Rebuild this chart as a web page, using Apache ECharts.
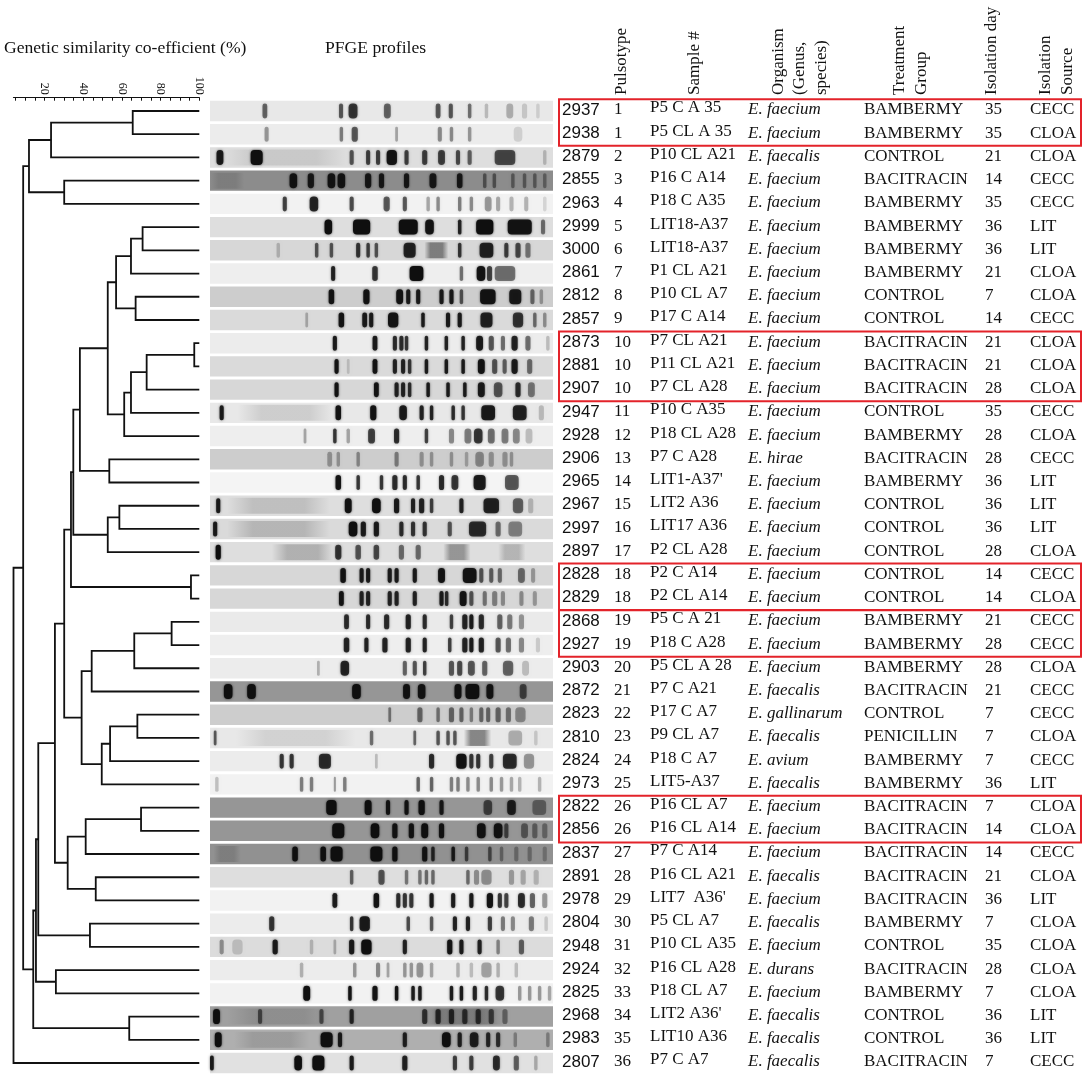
<!DOCTYPE html>
<html>
<head>
<meta charset="UTF-8">
<title>PFGE dendrogram</title>
<script src="https://cdn.jsdelivr.net/npm/echarts@6/dist/echarts.min.js"></script>
<style>html,body{margin:0;padding:0;background:#fff;}</style>
</head>
<body>
<div id="main" style="width:1084px;height:1079px;"></div>
<script type="text/javascript">
// table columns, one entry per isolate (top to bottom)
var isolates = ['2937','2938','2879','2855','2963','2999','3000','2861','2812','2857','2873','2881','2907','2947','2928','2906','2965','2967','2997','2897','2828','2829','2868','2927','2903','2872','2823','2810','2824','2973','2822','2856','2837','2891','2978','2804','2948','2924','2825','2968','2983','2807'];
var pulsotypes = [1,1,2,3,4,5,6,7,8,9,10,10,10,11,12,13,14,15,16,17,18,18,19,19,20,21,22,23,24,25,26,26,27,28,29,30,31,32,33,34,35,36];
var samples = ['P5 C A 35','P5 CL A 35','P10 CL A21','P16 C A14','P18 C A35','LIT18-A37','LIT18-A37','P1 CL A21','P10 CL A7','P17 C A14','P7 CL A21','P11 CL A21','P7 CL A28','P10 C A35','P18 CL A28','P7 C A28',"LIT1-A37'",'LIT2 A36','LIT17 A36','P2 CL A28','P2 C A14','P2 CL A14','P5 C A 21','P18 C A28','P5 CL A 28','P7 C A21','P17 C A7','P9 CL A7','P18 C A7','LIT5-A37','P16 CL A7','P16 CL A14','P7 C A14','P16 CL A21',"LIT7  A36'",'P5 CL A7','P10 CL A35','P16 CL A28','P18 CL A7',"LIT2 A36'",'LIT10 A36','P7 C A7'];
var organisms = ['E. faecium','E. faecium','E. faecalis','E. faecium','E. faecium','E. faecium','E. faecium','E. faecium','E. faecium','E. faecium','E. faecium','E. faecium','E. faecium','E. faecium','E. faecium','E. hirae','E. faecium','E. faecium','E. faecium','E. faecium','E. faecium','E. faecium','E. faecium','E. faecium','E. faecium','E. faecalis','E. gallinarum','E. faecalis','E. avium','E. faecalis','E. faecium','E. faecium','E. faecium','E. faecalis','E. faecium','E. faecalis','E. faecium','E. durans','E. faecium','E. faecalis','E. faecalis','E. faecalis'];
var treatments = ['BAMBERMY','BAMBERMY','CONTROL','BACITRACIN','BAMBERMY','BAMBERMY','BAMBERMY','BAMBERMY','CONTROL','CONTROL','BACITRACIN','BACITRACIN','BACITRACIN','CONTROL','BAMBERMY','BACITRACIN','BAMBERMY','CONTROL','CONTROL','CONTROL','CONTROL','CONTROL','BAMBERMY','BAMBERMY','BAMBERMY','BACITRACIN','CONTROL','PENICILLIN','BAMBERMY','BAMBERMY','BACITRACIN','BACITRACIN','BACITRACIN','BACITRACIN','BACITRACIN','BAMBERMY','CONTROL','BACITRACIN','BAMBERMY','CONTROL','CONTROL','BACITRACIN'];
var days = [35,35,21,14,35,36,36,21,7,14,21,21,28,35,28,28,36,36,36,28,14,14,21,28,28,21,7,7,7,36,7,14,14,21,36,7,35,28,7,36,36,7];
var sources = ['CECC','CLOA','CLOA','CECC','CECC','LIT','LIT','CLOA','CLOA','CECC','CLOA','CLOA','CLOA','CECC','CLOA','CECC','LIT','LIT','LIT','CLOA','CECC','CLOA','CECC','CECC','CLOA','CECC','CECC','CLOA','CECC','LIT','CLOA','CLOA','CECC','CLOA','LIT','CLOA','CLOA','CLOA','CLOA','LIT','LIT','CECC'];

// dendrogram merges: leaves are 0..41, merge k creates node 42+k
var mergeLeft  = [0,42,3,43,5,46,8,47,10,50,51,52,49,15,54,17,57,56,20,59,22,62,63,26,65,66,64,61,30,70,33,71,69,35,74,37,76,39,78,45,81];
var mergeRight = [1,2,4,44,6,7,9,48,11,12,13,14,53,16,55,18,19,58,21,60,23,24,25,27,28,29,67,68,31,32,34,72,73,36,75,38,77,40,79,80,41];
var mergeSim   = [65.6,23.4,30.2,12.0,70.7,64.7,67.1,57.0,97.4,72.8,64.7,61.2,52.7,53.5,38.3,58.7,52.7,34.9,95.7,33.7,85.7,66.4,44.4,68.0,53.9,49.6,39.2,30.2,69.9,41.3,46.5,32.0,25.4,43.5,16.8,25.9,15.6,63.8,14.2,9.0,4.0];

var simTicks = [5,10,15,20,25,30,35,40,45,50,55,60,65,70,75,80,85,90,95,100];
var simLabels = [20,40,60,80,100];

// gel lanes: background grey level, bands as [position %, width %, darkness]
var laneShade = [232,236,222,140,242,222,215,238,205,218,236,218,215,232,238,205,244,222,218,222,215,215,234,238,236,150,205,232,236,242,150,150,145,222,242,236,220,236,242,160,175,225];
var laneBands = [
 [[16.0,1.4,.55],[38.2,1.2,.6],[41.7,2.6,.75],[51.7,2.0,.55],[66.5,1.4,.6],[70.2,1.2,.6],[75.7,1,.5],[80.6,1,.2],[87.4,2,.25],[91.7,1.5,.15],[95.6,1,.12]],
 [[16.5,1.2,.35],[38.3,1,.45],[42.2,1.8,.6],[54.4,.8,.3],[67.0,1.2,.4],[70.4,1,.4],[75.7,1,.35],[89.8,2.5,.12]],
 [[22,36,.1],[2.9,2,.9],[13.6,3.5,1],[41.3,1.2,.6],[46.1,1.2,.7],[49,1.2,.7],[53,3,.95],[57.3,1.2,.7],[62.6,1.5,.7],[67.5,2,.7],[72.3,1.2,.65],[75.7,1.2,.55],[86,6,.65],[97.6,1,.2]],
 [[5,10,.12],[24.3,2.2,.95],[29.4,1.8,.9],[35.4,2.2,.95],[38.3,2.2,.95],[46.1,1.8,.9],[50,1.5,.9],[57.3,1.5,.9],[65,2,.9],[72.8,1.6,.9],[80.1,1,.45],[82.9,1,.45],[88.3,1,.4],[91.7,1,.4],[94.7,1,.4],[97.6,1,.35]],
 [[21.8,1.2,.7],[30.3,2.5,.85],[41.3,1.2,.65],[51.5,1.8,.6],[56.8,1.2,.6],[63.6,1,.3],[66.5,1,.4],[72.8,1,.45],[76.2,1,.4],[81.1,2,.35],[84,1.2,.3],[87.9,1.2,.25],[92.2,1.2,.25],[97.6,1,.12]],
 [[34.5,2.2,1],[44.2,5,1],[57.8,5.5,1],[64,2.5,.95],[72.8,1,.85],[80.1,5,1],[90.3,7,.95],[97.1,1.2,.5]],
 [[19.9,1,.2],[31.1,1,.6],[35.4,1,.6],[43.2,1.2,.75],[46.1,1,.7],[48.5,1,.6],[58.2,3.5,.85],[66,7,.45],[72.8,1,.75],[80.6,4,.85],[86.4,1.2,.7],[89.8,1.5,.65],[92.7,1.5,.45]],
 [[35.9,1.2,.85],[48.1,1.6,.75],[60.2,4,1],[73.3,1,.5],[79,2.5,.95],[81.5,1.5,.7],[86,6,.5]],
 [[35.4,1.6,.95],[45.6,1.8,.95],[55.3,2,.95],[57.8,1.2,.9],[60.7,1.2,.9],[67.5,1.2,.9],[70.4,1.2,.9],[73.3,1,.6],[81,4.5,.95],[89,3.5,.9],[94,1.2,.5],[96.6,1,.3]],
 [[28.2,.8,.25],[38.3,1.6,.95],[45.1,1.4,.9],[47,1.2,.9],[53.4,3,.95],[62.1,1,.9],[69.4,1.2,.9],[72.8,1.2,.9],[80.6,3.5,.85],[89.8,3,.75],[94.7,1,.5],[97.6,1,.35]],
 [[36.4,1.2,.9],[48.1,1.4,.9],[53.9,1.2,.8],[55.8,1.2,.8],[57.3,1,.75],[63.1,1,.85],[68.9,1,.85],[73.8,1,.85],[78.6,2,.9],[82,1.5,.6],[85.4,1.2,.5],[88.8,1.8,.85],[92.7,1.5,.5],[98.5,1,.2]],
 [[36.9,1.2,.95],[40.3,.8,.15],[48.1,1.4,.95],[53.9,1.2,.85],[56.3,1.2,.85],[58.2,1,.75],[63.1,1,.9],[68.9,1,.9],[73.8,1,.9],[79.1,2,.95],[83,1.5,.6],[85.9,1.2,.55],[88.8,1.8,.9],[93.2,1.5,.5]],
 [[36.9,1.2,.95],[48.5,1.4,.95],[54.4,1.2,.85],[56.3,1.2,.85],[58.2,1,.8],[63.6,1,.9],[69.4,1,.9],[74.3,1,.9],[79.1,2,.9],[84,2.5,.6],[89.8,1.5,.8],[93.7,2,.45]],
 [[3.4,1.2,.9],[22,28,.12],[37.4,1.6,.95],[47.6,1.8,.95],[56.3,2.2,.9],[61.7,1.2,.85],[64.6,1,.85],[70.9,1,.8],[73.8,1,.75],[81.1,4,.9],[90.3,4,.85],[96.6,1.5,.2]],
 [[27.7,.8,.3],[36.4,1,.75],[40.3,1,.3],[47.1,2,.7],[54.4,1.5,.8],[63.1,1,.7],[70.4,1.5,.4],[75.2,2,.45],[78.2,2.5,.75],[82,2,.5],[86,2,.45],[89.3,2,.4],[93,2,.2]],
 [[34.9,1.4,.3],[37.4,1,.3],[43.2,1,.35],[54.4,1.2,.4],[61.7,1.2,.3],[64.6,1,.3],[70.4,1,.3],[74.8,1,.25],[78.6,2.5,.35],[82,1.5,.3],[86,1.5,.3],[87.9,1,.3]],
 [[37.4,1.6,.95],[43.2,1,.75],[50,1,.75],[53.9,1.5,.8],[56.8,1.2,.8],[60.7,1,.75],[67.5,1.5,.8],[71.4,2,.75],[78.6,3.5,.9],[88,4,.6]],
 [[2.4,1.2,.9],[20,30,.15],[40.3,2,.95],[48.5,2.5,1],[54.4,1.5,.9],[59.2,1.2,.85],[61.7,1.5,.85],[64.6,1,.7],[73.3,1.2,.85],[82,4.5,.85],[89.8,3,.55],[93.5,1.5,.2]],
 [[1.5,1.2,.9],[20,30,.18],[41.7,2.5,1],[44.7,1.5,.9],[48.5,1.5,.9],[55.8,1.2,.8],[59.2,1.2,.75],[62.6,1.2,.75],[69.9,1.2,.6],[78,5,.8],[84,1.5,.5],[89,4,.4]],
 [[2.4,1.5,1],[27,18,.22],[37.4,1.8,.75],[43.2,1.6,.6],[48.5,1.6,.65],[55.8,1.5,.5],[60.7,1.5,.5],[72,8,.35],[88,8,.2]],
 [[38.8,1.6,.95],[44.2,1.2,.9],[46.1,1.2,.9],[52.4,1.2,.9],[54.4,1.2,.9],[59.7,1.2,.9],[67.5,2,.95],[75.7,4,.95],[79.1,1.2,.6],[82,1.2,.55],[84.5,1.2,.5],[90.8,2,.5],[94.2,1.2,.3]],
 [[38.3,1.4,.95],[44.2,1.2,.85],[46.1,1.2,.85],[52.4,1.2,.85],[54.4,1.2,.85],[59.7,1.2,.85],[67.5,1.2,.9],[69,1,.8],[73.8,2,.95],[76.2,1.2,.6],[80.1,1.2,.45],[83,1.5,.4],[85.4,1.2,.35],[90.8,1.2,.35],[94.7,1.2,.3]],
 [[39.8,1.4,.8],[46.1,1.2,.8],[51.5,1.5,.8],[57.8,1.5,.85],[62.6,1.2,.8],[70.4,1,.7],[74.3,1.5,.85],[76.2,1.2,.9],[79.1,1.5,.8],[84.5,1.5,.55],[87.4,1.5,.45],[90.8,1.5,.35]],
 [[39.8,1.6,.85],[45.6,1.2,.85],[51,1.5,.85],[57.8,1.5,.85],[62.6,1.2,.85],[69.9,1,.7],[74.3,1.5,.85],[76.2,1.2,.9],[79.1,1.5,.85],[84,1.5,.6],[87,1.5,.5],[90.8,1.5,.4],[95.6,1.2,.15]],
 [[31.6,.8,.25],[39.3,2.5,.85],[56.8,1.2,.55],[59.7,1.2,.6],[62.6,1,.7],[70.4,1.5,.6],[72.8,1.5,.65],[76.2,2,.6],[80.1,1.5,.55],[86.9,3,.55],[92,2,.2]],
 [[5.3,2.5,1],[12.1,2.5,1],[42.7,2.5,1],[57.3,2,.95],[61.7,2.2,.95],[72.3,2,1],[76.5,4,1],[81.6,2,.95],[91.3,2,.6]],
 [[52.4,.8,.45],[61.2,1.5,.5],[66.5,1,.45],[70.4,1.5,.5],[73.3,1.2,.5],[76.2,1,.4],[79.1,1.2,.5],[81.1,1.2,.5],[84,1.5,.5],[87,1.5,.45],[90.5,3,.35]],
 [[1.5,.8,.6],[25,35,.1],[47.1,1,.5],[59.7,.8,.55],[66.5,1,.6],[69.4,1,.6],[71.4,1,.6],[78,8,.45],[89,4,.25],[95,1,.15]],
 [[20.9,1.2,.75],[23.8,1.2,.75],[33.5,3.5,.8],[48.5,.8,.2],[64.6,1.5,.8],[73.3,3,.95],[76.2,1.2,.75],[78.2,1.2,.75],[82,1.2,.7],[87.4,4,.8],[93,3,.35]],
 [[2,1,.2],[26.7,1,.45],[29.6,1,.45],[36.4,.6,.35],[39.3,1,.45],[60.7,1,.55],[64.6,1,.55],[70.4,1,.45],[72.3,1,.45],[75.2,1,.4],[78.2,1,.4],[82,1,.4],[85,1,.35],[87.9,1,.3],[90.3,1,.25],[96.1,1,.25]],
 [[35.4,3,1],[46.1,2,1],[51.9,1.2,.95],[57.3,1.2,.95],[61.7,1.8,1],[67.5,1.2,.9],[81,2.5,.6],[87.9,2.5,.85],[96,4,.4]],
 [[37.4,3.5,1],[48.1,2.5,1],[53.9,1.5,.95],[58.7,1.5,.95],[62.6,2,1],[67.5,1.5,.95],[79.1,2.5,.95],[84,2.5,.95],[86.4,1.2,.6],[91.7,2,.45],[94.7,1.5,.4],[97.6,1.5,.35]],
 [[5,8,.15],[24.8,1.6,1],[33,1.6,1],[36.9,3.5,1],[48.5,3.5,1],[53.9,1.5,1],[62.6,1.5,.95],[65,1,.8],[70.9,1,.9],[74.8,1,.6],[81.6,1,.55],[85,1,.35],[89.3,1.2,.3],[93.2,1.2,.3],[97.6,1.2,.25]],
 [[41.3,1,.55],[50,1.8,.6],[57.3,1,.45],[61.2,1,.45],[63.1,1,.5],[65,1,.5],[75.2,1,.5],[77.7,1.5,.35],[80.6,3,.35],[87.9,1.5,.3],[91.3,1.5,.25],[95.1,1.5,.2]],
 [[36.4,1.4,.9],[48.5,1.6,.95],[54.9,1.2,.8],[56.8,1.2,.75],[58.7,1.2,.75],[64.6,1.2,.9],[70.9,1.2,.9],[76.2,1.2,.9],[81.6,1.8,.95],[84.5,1.2,.75],[86.4,1.2,.7],[90.8,2,.8],[94,1.5,.55],[97.6,1.5,.35]],
 [[18,1.5,.75],[41.3,1,.75],[45.1,3,.9],[57.8,1,.65],[64.6,1,.6],[71.4,1.2,.85],[75.2,1.2,.85],[81.6,1.2,.7],[85.4,1.2,.45],[88.3,1.2,.4],[93.7,1.5,.45],[98,1,.15]],
 [[3.4,1.2,.35],[8,3,.15],[19,1.5,.9],[29.6,1,.2],[36.4,.8,.25],[41.3,1.5,.9],[45.6,3,1],[56.8,1.2,.85],[69.9,1.5,.95],[73.3,1.2,.9],[78.6,1.2,.85],[84,1,.4],[90.8,1.5,.55]],
 [[26.7,1,.25],[42.2,1,.35],[49,1.2,.4],[51.9,.8,.3],[56.8,1,.35],[58.7,1,.35],[61.2,2,.35],[64.6,1,.3],[72.3,1,.25],[76.2,1,.2],[80.6,3,.3],[84,1,.25],[89.3,1,.2]],
 [[28.2,2,1],[40.8,1,.95],[48.1,1.5,.95],[54.4,1,.95],[59.2,1,.9],[61.2,1,.9],[70.4,1,.9],[73.3,1,.9],[77.2,1.2,.85],[80.6,1,.8],[84.5,2.5,.75],[90.3,1,.35],[93.2,1,.35],[96.1,1,.35],[99,1,.3]],
 [[1.9,2,1],[20,30,.12],[14.6,1.2,.55],[32.5,1.2,.55],[41.3,1.2,.8],[74,24,.25],[62.6,1.5,.7],[66.5,1.5,.75],[70.4,1.5,.75],[74.3,1.5,.7],[78.2,1.5,.7],[82,1.5,.6],[86,1.5,.4]],
 [[2.4,2,1],[18,22,.12],[34,3.5,1],[37.9,1.2,.9],[56.8,1.2,.85],[68.9,2.5,1],[72.8,1.2,.85],[77,2.5,.85],[81.1,1.2,.8],[84,1.2,.75],[89,1,.3],[98.5,1,.3]],
 [[0.5,1.2,.9],[25.7,2.2,1],[31.6,3.5,1],[41.3,1.2,.9],[56.8,1.5,.85],[71.4,1.2,.7],[76.2,1.2,.7],[83.5,2,.8],[89.3,1.5,.55],[95,1,.25]]
];

// rows framed in red (first, last)
var boxedGroups = [[0,1],[10,12],[20,21],[22,23],[30,31]];

var headerLines = ['Pulsotype','Sample #','Organism','(Genus,','species)','Treatment','Group','Isolation day','Isolation','Source'];
var headerX = [622,695,779,800,822,900,922,992,1046,1068];

var serif = '"Liberation Serif", "Times New Roman", serif';
var nLeaf = isolates.length;

// positions of leaves and merge nodes
var nodeY = [], nodeSim = [];
for (var i = 0; i < nLeaf; i++) { nodeY[i] = i; nodeSim[i] = 100; }
var treeData = [];
for (var k = 0; k < mergeSim.length; k++) {
    var a = mergeLeft[k], b = mergeRight[k];
    nodeY[nLeaf + k] = (nodeY[a] + nodeY[b]) / 2;
    nodeSim[nLeaf + k] = mergeSim[k];
    treeData.push([mergeSim[k], nodeY[a], nodeY[b], nodeSim[a], nodeSim[b]]);
}

var laneData = laneShade.map(function (g, i) { return [50, i, g]; });
var bandData = [];
laneBands.forEach(function (list, row) {
    list.forEach(function (bd) { bandData.push([bd[0], row, bd[1], bd[2]]); });
});
var rowData = isolates.map(function (s, i) { return [0, i]; });

// x offsets of table columns inside the table grid (px)
var colX = [6, 58, 94, 192, 308, 429, 474];

var myChart = echarts.init(document.getElementById('main'));

var option = {
    backgroundColor: '#fff',
    animation: false,
    grid: [
        {left: 13.5, width: 185.8, top: 111, height: 952},
        {left: 210, width: 343, top: 111, height: 952},
        {left: 556, width: 528, top: 111, height: 952}
    ],
    xAxis: [
        {
            gridIndex: 0, type: 'value', position: 'top', min: 4, max: 100, offset: 13.3,
            axisLine: {show: true, onZero: false, lineStyle: {color: '#111', width: 1.2}},
            axisTick: {show: true, inside: true, length: 3, customValues: simTicks, lineStyle: {color: '#111'}},
            axisLabel: {show: true, customValues: simLabels, rotate: 90, margin: 3, fontSize: 12, fontFamily: serif, color: '#111'},
            splitLine: {show: false}
        },
        {gridIndex: 1, type: 'value', min: 0, max: 100, show: false},
        {gridIndex: 2, type: 'value', min: 0, max: 528, show: false}
    ],
    yAxis: [
        {gridIndex: 0, type: 'value', min: 0, max: 41, inverse: true, show: false},
        {gridIndex: 1, type: 'value', min: 0, max: 41, inverse: true, show: false},
        {gridIndex: 2, type: 'value', min: 0, max: 41, inverse: true, show: false}
    ],
    graphic: [
        {type: 'text', x: 4, y: 48, style: {text: 'Genetic similarity co-efficient (%)', font: '17.6px ' + serif, fill: '#111', verticalAlign: 'middle'}},
        {type: 'text', x: 325, y: 48, style: {text: 'PFGE profiles', font: '17.6px ' + serif, fill: '#111', verticalAlign: 'middle'}}
    ].concat(headerLines.map(function (t, i) {
        return {type: 'text', x: headerX[i], y: 95, rotation: Math.PI / 2,
            style: {text: t, font: '17px ' + serif, fill: '#111', align: 'left', verticalAlign: 'middle'}};
    })),
    series: [
        {
            name: 'dendrogram', type: 'custom', xAxisIndex: 0, yAxisIndex: 0,
            silent: true, clip: false, data: treeData, encode: {x: 0, y: 1},
            renderItem: function (params, api) {
                var h = api.value(0), ya = api.value(1), yb = api.value(2);
                var pts = [api.coord([api.value(3), ya]), api.coord([h, ya]), api.coord([h, yb]), api.coord([api.value(4), yb])];
                return {type: 'polyline', shape: {points: pts}, style: {stroke: '#111', lineWidth: 1.8, fill: null}};
            }
        },
        {
            name: 'lanes', type: 'custom', xAxisIndex: 1, yAxisIndex: 1,
            silent: true, clip: false, data: laneData, encode: {x: 0, y: 1},
            renderItem: function (params, api) {
                var l = api.coord([0, api.value(1)]), r = api.coord([100, api.value(1)]);
                var g = api.value(2);
                return {type: 'rect', shape: {x: l[0], y: l[1] - 10.2, width: r[0] - l[0], height: 20.4},
                    style: {fill: 'rgb(' + g + ',' + g + ',' + g + ')'}};
            }
        },
        {
            name: 'bands', type: 'custom', xAxisIndex: 1, yAxisIndex: 1,
            silent: true, clip: false, data: bandData, encode: {x: 0, y: 1},
            renderItem: function (params, api) {
                var row = api.value(1);
                var c = api.coord([api.value(0), row]);
                var w = api.size([api.value(2), 0])[0];
                var lx = api.coord([0, row])[0], rx = api.coord([100, row])[0];
                var x0 = Math.max(lx, c[0] - w / 2), x1 = Math.min(rx, c[0] + w / 2);
                var k = api.value(3);
                var col = 'rgba(15,15,15,' + k + ')';
                if (api.value(2) > 6 && k < 0.5) {
                    // diffuse smear, faded at both ends
                    var clear = 'rgba(15,15,15,0)';
                    return {type: 'rect', shape: {x: x0, y: c[1] - 8, width: x1 - x0, height: 16},
                        style: {fill: new echarts.graphic.LinearGradient(0, 0, 1, 0, [
                            {offset: 0, color: clear}, {offset: 0.25, color: col},
                            {offset: 0.75, color: col}, {offset: 1, color: clear}])}};
                }
                return {type: 'rect',
                    shape: {x: x0, y: c[1] - 7.5, width: x1 - x0, height: 15, r: Math.min(4, (x1 - x0) / 2)},
                    style: {fill: col, shadowBlur: 2.5, shadowColor: 'rgba(0,0,0,' + (k * 0.7) + ')'}};
            }
        },
        {
            name: 'table', type: 'custom', xAxisIndex: 2, yAxisIndex: 2,
            silent: true, clip: false, data: rowData, encode: {x: 0, y: 1},
            renderItem: function (params, api) {
                var i = params.dataIndex;
                var p = api.coord([0, api.value(1)]);
                var y = p[1] - 1;
                function txt(col, s, font, dy) {
                    return {type: 'text', x: p[0] + colX[col], y: y + (dy || 0),
                        style: {text: String(s), font: font, fill: '#111', align: 'left', verticalAlign: 'middle'}};
                }
                return {type: 'group', children: [
                    txt(0, isolates[i], '17px "Liberation Sans", Arial, sans-serif'),
                    txt(1, pulsotypes[i], '17px ' + serif),
                    txt(2, samples[i], '17px ' + serif, -2),
                    txt(3, organisms[i], 'italic 17px ' + serif),
                    txt(4, treatments[i], '17px ' + serif),
                    txt(5, days[i], '17px ' + serif),
                    txt(6, sources[i], '17px ' + serif)
                ]};
            }
        },
        {
            name: 'groups', type: 'custom', xAxisIndex: 2, yAxisIndex: 2,
            silent: true, clip: false, data: boxedGroups, encode: {x: 0, y: 1},
            renderItem: function (params, api) {
                var t = api.coord([3, api.value(0)]), b = api.coord([525, api.value(1)]);
                return {type: 'rect', shape: {x: t[0], y: t[1] - 11.8, width: b[0] - t[0], height: b[1] - t[1] + 23.4},
                    style: {fill: null, stroke: '#e3232a', lineWidth: 2}};
            }
        }
    ]
};
myChart.setOption(option);
</script>
</body>
</html>
